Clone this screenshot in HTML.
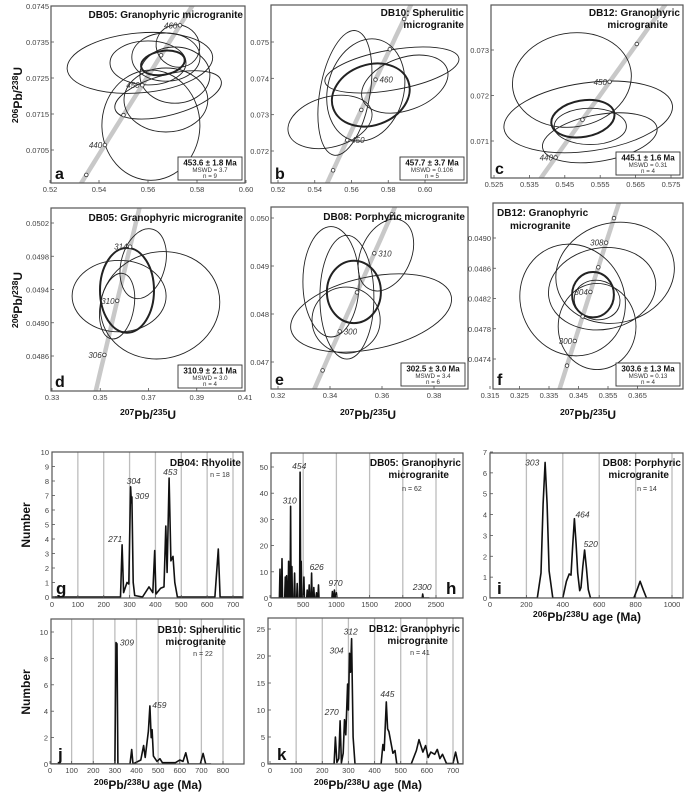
<!DOCTYPE html>
<html><head><meta charset="utf-8">
<style>
html,body{margin:0;padding:0;background:#fff;width:685px;height:796px;overflow:hidden;}
svg{display:block;font-family:"Liberation Sans",sans-serif;}
</style></head>
<body>
<svg id="fig" width="685" height="796" viewBox="0 0 685 796" xmlns="http://www.w3.org/2000/svg"></svg>
<script>
// ---------- concordia panel data ----------
const aXTicks=[0.52,0.54,0.56,0.58,0.60];
const aXLabels=["0.52","0.54","0.56","0.58","0.60"];
const aYTicks=[0.0705,0.0715,0.0725,0.0735,0.0745];
const aYLabels=["0.0705","0.0715","0.0725","0.0735","0.0745"];
const aEllipses=[[0.5567,0.07292,0.0298,0.00083,-5,0],[0.5612,0.07119,0.0200,0.00153,0,0],[0.5673,0.07189,0.0171,0.00089,0,0],[0.5682,0.07203,0.0224,0.00056,-15,0],[0.5673,0.07308,0.0139,0.00067,0,0],[0.5722,0.07339,0.009,0.00058,30,0],[0.5600,0.07292,0.0155,0.00061,0,0],[0.5710,0.07258,0.0143,0.00078,0,0],[0.5661,0.07292,0.009,0.00033,-10,1]];
const aAges=[435,440,445,450,455,460];
const aAgeLabels=[440,450,460];

const bXTicks=[0.52,0.54,0.56,0.58,0.60];
const bXLabels=["0.52","0.54","0.56","0.58","0.60"];
const bYTicks=[0.072,0.073,0.074,0.075];
const bYLabels=["0.072","0.073","0.074","0.075"];
const bEllipses=[[0.5564,0.07360,0.0136,0.00174,10,0],[0.5820,0.07423,0.037,0.00055,-10,0],[0.5890,0.07384,0.0245,0.00072,-20,0],[0.5483,0.07280,0.0234,0.00069,-15,0],[0.5678,0.07368,0.0207,0.00143,15,0],[0.5705,0.07354,0.0217,0.00083,-20,1]];
const bAges=[445,450,455,460,465,470];
const bAgeLabels=[450,460];

const cXTicks=[0.525,0.535,0.545,0.555,0.565,0.575];
const cXLabels=["0.525","0.535","0.545","0.555","0.565","0.575"];
const cYTicks=[0.071,0.072,0.073];
const cYLabels=["0.071","0.072","0.073"];
const cEllipses=[[0.5470,0.07234,0.0169,0.00103,-10,0],[0.5516,0.07153,0.0240,0.00075,-8,0],[0.5522,0.07132,0.0102,0.0004,0,0],[0.5549,0.07107,0.0164,0.00051,-10,0],[0.5501,0.07149,0.0090,0.0004,-10,1]];
const cAges=[440,445,450,455];
const cAgeLabels=[440,450];

const dXTicks=[0.33,0.35,0.37,0.39,0.41];
const dXLabels=["0.33","0.35","0.37","0.39","0.41"];
const dYTicks=[0.0486,0.0490,0.0494,0.0498,0.0502];
const dYLabels=["0.0486","0.0490","0.0494","0.0498","0.0502"];
const dEllipses=[[0.3748,0.04921,0.0249,0.00064,-15,0],[0.3678,0.04971,0.0091,0.00043,15,0],[0.3570,0.04920,0.0070,0.0004,10,0],[0.3578,0.04932,0.0195,0.00043,0,0],[0.3611,0.04939,0.0112,0.00051,0,1]];
const dAges=[302,306,310,314,318];
const dAgeLabels=[306,310,314];

const eXTicks=[0.32,0.34,0.36,0.38];
const eXLabels=["0.32","0.34","0.36","0.38"];
const eYTicks=[0.047,0.048,0.049,0.050];
const eYLabels=["0.047","0.048","0.049","0.050"];
const eEllipses=[[0.3615,0.04923,0.0096,0.00079,25,0],[0.3404,0.04867,0.0108,0.00115,0,0],[0.3465,0.04835,0.0104,0.00129,0,0],[0.3558,0.04802,0.0315,0.00075,-12,0],[0.3462,0.04787,0.0131,0.00069,0,0],[0.3492,0.04846,0.0104,0.00065,0,1]];
const eAges=[290,295,300,305,310,315];
const eAgeLabels=[290,300,310];

const fXTicks=[0.315,0.325,0.335,0.345,0.355,0.365];
const fXLabels=["0.315","0.325","0.335","0.345","0.355","0.365"];
const fYTicks=[0.0474,0.0478,0.0482,0.0486,0.0490];
const fYLabels=["0.0474","0.0478","0.0482","0.0486","0.0490"];
const fEllipses=[[0.3513,0.04818,0.0078,0.00026,10,0],[0.3430,0.04818,0.0176,0.00075,-25,0],[0.3574,0.04854,0.0203,0.00066,-15,0],[0.3530,0.04833,0.0183,0.00054,-10,0],[0.3513,0.04783,0.0132,0.00057,0,0],[0.3499,0.04825,0.0071,0.00030,0,1]];
const fAges=[298,300,302,304,306,308,310];
const fAgeLabels=[300,304,308];

// ---------- histogram data ----------
const gAges=[0,265,271,277,290,297,304,307,309,314,320,350,375,390,397,402,420,433,440,445,453,460,468,475,485,630,643,650,740];
const gValues=[0,0,3.6,0.3,1,0.9,7.6,6.5,6.9,1,0.1,0,0.7,0.3,3.2,0.2,0.6,0.7,4.9,1.7,8.2,2.5,2.8,1,0,0,3.3,0,0];
const hPeakAges=[150,180,230,250,280,295,310,330,370,410,454,470,510,560,590,626,660,700,730,940,970,1000,2300];
const hPeakValues=[11,15,8,8.5,14,9,35,12,9.5,5.5,48,14,8,3,5,9.5,4,2,5,2.5,3,2,1.5];
const iAges=[0,260,280,292,303,314,325,345,400,420,435,445,455,464,473,482,493,500,510,520,530,540,552,790,808,825,842,860,1050];
const iValues=[0,0,1.2,4.5,6.5,4.5,1.3,0,0,0.8,1.15,1.1,2.6,3.8,2.6,1.2,0.35,0.5,1.5,2.3,1.4,0.4,0,0,0.4,0.8,0.4,0,0];
const jAges=[0,300,305,310,314,370,378,384,420,433,440,455,462,468,472,478,495,508,520,580,600,615,628,640,695,708,720,745];
const jValues=[0,0,9.2,9.1,0,0,1.1,0,0.3,1.4,0.5,2.5,4.4,2,2.6,0.6,0.2,0.4,0.1,0.1,0.3,0.2,0.85,0,0,0.8,0,0];
const kAges=[0,245,250,256,263,268,273,280,285,290,297,300,304,308,312,318,325,425,432,437,445,450,455,470,478,485,540,560,570,585,595,605,615,630,640,650,660,675,700,710,720,740];
const kValues=[0,0,5,0.3,1,8,0.2,2,8.2,5.4,14.8,10,20.5,17,23.2,5,0,0,3.6,2.5,11.5,6.5,6,2,2.5,0,0,2.5,4.5,2.2,3.4,1.2,2.2,1.8,2.7,1,1.8,0.1,0.1,2.2,0,0];

// ---------- helpers ----------
const NS='http://www.w3.org/2000/svg';
const svg=document.getElementById('fig');
function mk(tag,attrs,parent){const e=document.createElementNS(NS,tag);for(const k in attrs)e.setAttribute(k,attrs[k]);(parent||svg).appendChild(e);return e;}
function lin(d0,d1,p0,p1){return v=>p0+(v-d0)*(p1-p0)/(d1-d0);}
function txt(x,y,s,attrs,parent){const t=mk('text',Object.assign({x:x,y:y},attrs),parent);t.textContent=s;return t;}
const L238=1.55125e-10,L235=9.8485e-10;
function conc(t){return [Math.exp(L235*t*1e6)-1,Math.exp(L238*t*1e6)-1];}
let clipN=0;

function concPanel(o){
  const g=mk('g',{});
  
  
  const [L,T,R,B]=o.box;
  const X=lin(o.x0,o.x1,o.px0,o.px1), Y=lin(o.y0,o.y1,o.py0,o.py1);
  const cid='clip'+(clipN++);
  const cp=mk('clipPath',{id:cid},g);mk('rect',{x:L,y:T,width:R-L,height:B-T},cp);
  const inner=mk('g',{'clip-path':'url(#'+cid+')'},g);
  let pts=[];for(let t=150;t<=650;t+=1){const c=conc(t);pts.push(X(c[0]).toFixed(1)+','+Y(c[1]).toFixed(1));}
  const cl=mk('polyline',{points:pts.join(' '),fill:'none',stroke:'#c8c8c8','stroke-width':4.5},inner);
  
  
  const sx=Math.abs(o.px1-o.px0)/Math.abs(o.x1-o.x0), sy=Math.abs(o.py1-o.py0)/Math.abs(o.y1-o.y0);
  o.ell.forEach(e=>{
    const cx=X(e[0]),cy=Y(e[1]);
    const el=mk('ellipse',{cx:cx.toFixed(1),cy:cy.toFixed(1),rx:(e[2]*sx).toFixed(1),ry:(e[3]*sy).toFixed(1),transform:'rotate('+e[4]+' '+cx.toFixed(1)+' '+cy.toFixed(1)+')',fill:'none',stroke:'#222','stroke-width':e[5]?2:0.9},inner);
    
    
  });
  o.ages.forEach(t=>{
    const c=conc(t);
    const m=mk('circle',{cx:X(c[0]).toFixed(1),cy:Y(c[1]).toFixed(1),r:1.8,fill:'#fff',stroke:'#333','stroke-width':0.8},inner);
    
    
    if(o.ageLab.indexOf(t)>=0){
      const lt=txt(X(c[0])+(o.labDx||-16),Y(c[1])+3,String(t),{'font-size':8,'font-style':'italic',fill:'#333'},inner);
      
      
    }
  });
  const bx=mk('rect',{x:L,y:T,width:R-L,height:B-T,fill:'none',stroke:'#555','stroke-width':1.2},g);
  
  
  o.xt.forEach((v,i)=>{const x=X(v);mk('line',{x1:x,y1:B,x2:x,y2:B-3,stroke:'#555','stroke-width':0.8},g);
    const t=txt(x,B+9,o.xl[i],{'font-size':7.5,fill:'#444','text-anchor':'middle'},g);
    
    });
  o.yt.forEach((v,i)=>{const y=Y(v);mk('line',{x1:L,y1:y,x2:L+3,y2:y,stroke:'#555','stroke-width':0.8},g);
    const t=txt(L-2,y+3,o.yl[i],{'font-size':7.5,fill:'#444','text-anchor':'end'},g);
    
    });
  o.title.forEach(l=>{const t=txt(l[0],l[1],l[2],{'font-size':10,'font-weight':'bold',fill:'#111','text-anchor':l[3]||'end'},g);
    
    });
  const rw=64,rh=23,rx=R-rw-3,ry=B-rh-3;
  const rb=mk('rect',{x:rx,y:ry,width:rw,height:rh,fill:'#fff',stroke:'#333','stroke-width':0.9},g);
  
  
  const r1=txt(rx+rw/2,ry+8.5,o.res[0],{'font-size':8,'font-weight':'bold','text-anchor':'middle',fill:'#111'},g);
  
  
  const r2=txt(rx+rw/2,ry+15,o.res[1],{'font-size':6.2,'text-anchor':'middle',fill:'#333'},g);
  
  
  const r3=txt(rx+rw/2,ry+21,o.res[2],{'font-size':6.2,'text-anchor':'middle',fill:'#333'},g);
  
  
  const pl=txt(L+4,B-4,o.id,{'font-size':16,'font-weight':'bold',fill:'#111'},g);
  
  
}

function histPanel(o){
  const g=mk('g',{});
  
  
  const [L,T,R,B]=o.box;
  const X=lin(0,o.xref,o.px0,o.px1), Y=lin(0,o.yref,o.py0,o.py1);
  o.grid.forEach(v=>{const gl=mk('line',{x1:X(v),y1:T,x2:X(v),y2:B,stroke:'#bdbdbd','stroke-width':1.3},g);
    
    });
  const cid='clip'+(clipN++);
  const cp=mk('clipPath',{id:cid},g);mk('rect',{x:L,y:T,width:R-L,height:B-T},cp);
  let pts;
  if(o.spikes){pts=[[X(0),Y(0)]];o.ages.forEach((a,i)=>{pts.push([X(a-8),Y(0)],[X(a),Y(o.vals[i])],[X(a+8),Y(0)]);});pts.push([X(o.xmaxLine),Y(0)]);}
  else pts=o.ages.map((a,i)=>[X(a),Y(o.vals[i])]);
  const pl=mk('polyline',{points:pts.map(p=>p[0].toFixed(1)+','+p[1].toFixed(1)).join(' '),fill:'none',stroke:'#111','stroke-width':1.6,'stroke-linejoin':'round','clip-path':'url(#'+cid+')'},g);
  
  
  const bx=mk('rect',{x:L,y:T,width:R-L,height:B-T,fill:'none',stroke:'#555','stroke-width':1.2},g);
  
  
  o.xt.forEach(v=>{const x=X(v);mk('line',{x1:x,y1:B,x2:x,y2:B-3,stroke:'#555','stroke-width':0.8},g);
    const t=txt(x,B+9,String(v),{'font-size':7.5,fill:'#444','text-anchor':'middle'},g);
    
    });
  o.yt.forEach(v=>{const y=Y(v);mk('line',{x1:L,y1:y,x2:L+3,y2:y,stroke:'#555','stroke-width':0.8},g);
    const t=txt(L-3,y+3,String(v),{'font-size':7.5,fill:'#444','text-anchor':'end'},g);
    
    });
  o.title.forEach(l=>{const t=txt(l[0],l[1],l[2],{'font-size':10,'font-weight':'bold',fill:'#111','text-anchor':'end'},g);
    
    });
  const nt=txt(o.n[0],o.n[1],o.n[2],{'font-size':7,fill:'#333','text-anchor':'middle'},g);
  
  
  o.peaks.forEach(p=>{const t=txt(X(p[0])+p[2],Y(p[1])+p[3],String(p[0]),{'font-size':8.5,'font-style':'italic',fill:'#333'},g);
    
    });
  const lt=txt(o.letter[0],o.letter[1],o.id,{'font-size':17,'font-weight':'bold',fill:'#111'},g);
  
  
}

concPanel({id:'a',box:[51,6,245,183],x0:0.52,x1:0.60,px0:50,px1:246,y0:0.0745,y1:0.0705,py0:6,py1:150,ell:aEllipses,ages:aAges,ageLab:aAgeLabels,xt:aXTicks,xl:aXLabels,yt:aYTicks,yl:aYLabels,title:[[243,18,'DB05: Granophyric microgranite']],res:['453.6 ± 1.8 Ma','MSWD = 3.7','n = 9']});
concPanel({id:'b',box:[271,5,467,183],x0:0.52,x1:0.60,px0:278,px1:425,y0:0.075,y1:0.072,py0:42,py1:151,ell:bEllipses,ages:bAges,ageLab:bAgeLabels,labDx:4,xt:bXTicks,xl:bXLabels,yt:bYTicks,yl:bYLabels,title:[[464,16,'DB10: Spherulitic'],[464,28,'microgranite']],res:['457.7 ± 3.7 Ma','MSWD = 0.106','n = 5']});
concPanel({id:'c',box:[491,5,683,178],x0:0.525,x1:0.575,px0:494,px1:671,y0:0.073,y1:0.071,py0:50,py1:141,ell:cEllipses,ages:cAges,ageLab:cAgeLabels,xt:cXTicks,xl:cXLabels,yt:cYTicks,yl:cYLabels,title:[[680,16,'DB12: Granophyric'],[668,28,'microgranite']],res:['445.1 ± 1.6 Ma','MSWD = 0.31','n = 4']});
concPanel({id:'d',box:[51,208,245,391],x0:0.33,x1:0.41,px0:52,px1:245,y0:0.0502,y1:0.0486,py0:223,py1:356,ell:dEllipses,ages:dAges,ageLab:dAgeLabels,xt:dXTicks,xl:dXLabels,yt:dYTicks,yl:dYLabels,title:[[243,221,'DB05: Granophyric microgranite']],res:['310.9 ± 2.1 Ma','MSWD = 3.0','n = 4']});
concPanel({id:'e',box:[271,207,468,389],x0:0.32,x1:0.38,px0:278,px1:434,y0:0.050,y1:0.047,py0:218,py1:362,ell:eEllipses,ages:eAges,ageLab:eAgeLabels,labDx:4,xt:eXTicks,xl:eXLabels,yt:eYTicks,yl:eYLabels,title:[[465,220,'DB08: Porphyric microgranite']],res:['302.5 ± 3.0 Ma','MSWD = 3.4','n = 6']});
concPanel({id:'f',box:[493,203,683,389],x0:0.315,x1:0.365,px0:490,px1:637.5,y0:0.049,y1:0.0474,py0:238,py1:359,ell:fEllipses,ages:fAges,ageLab:fAgeLabels,xt:fXTicks,xl:fXLabels,yt:fYTicks,yl:fYLabels,title:[[497,216,'DB12: Granophyric','start'],[510,229,'microgranite','start']],res:['303.6 ± 1.3 Ma','MSWD = 0.13','n = 4']});

histPanel({id:'g',box:[52,452,243,598],xref:700,px0:52,px1:233,yref:10,py0:597,py1:452,grid:[100,200,300,400,500,600,700],ages:gAges,vals:gValues,xt:[0,100,200,300,400,500,600,700],yt:[0,1,2,3,4,5,6,7,8,9,10],title:[[241,466,'DB04: Rhyolite']],n:[220,477,'n = 18'],peaks:[[271,3.6,-14,-3],[304,7.6,-4,-3],[309,6.9,3,2],[453,8.2,-6,-3]],letter:[56,594]});
histPanel({id:'h',box:[271,453,463,598],xref:2500,px0:270,px1:436,yref:50,py0:598,py1:467,spikes:true,xmaxLine:2400,grid:[500,1000,1500,2000,2500],ages:hPeakAges,vals:hPeakValues,xt:[0,500,1000,1500,2000,2500],yt:[0,10,20,30,40,50],title:[[461,466,'DB05: Granophyric'],[449,478,'microgranite']],n:[412,491,'n = 62'],peaks:[[454,48,-8,-3],[310,35,-8,-3],[626,9.5,-2,-3],[970,3,-6,-4],[2300,1.5,-10,-4]],letter:[446,594]});
histPanel({id:'i',box:[490,453,683,598],xref:1000,px0:490,px1:672,yref:7,py0:598,py1:452,grid:[200,400,600,800,1000],ages:iAges,vals:iValues,xt:[0,200,400,600,800,1000],yt:[0,1,2,3,4,5,6,7],title:[[681,466,'DB08: Porphyric'],[669,478,'microgranite']],n:[647,491,'n = 14'],peaks:[[303,6.5,-20,3],[464,3.8,1,-1],[520,2.3,-1,-3]],letter:[497,594]});
histPanel({id:'j',box:[51,619,244,764],xref:800,px0:50,px1:223,yref:10,py0:764,py1:632,grid:[100,200,300,400,500,600,700,800],ages:jAges,vals:jValues,xt:[0,100,200,300,400,500,600,700,800],yt:[0,2,4,6,8,10],title:[[241,633,'DB10: Spherulitic'],[226,645,'microgranite']],n:[203,656,'n = 22'],peaks:[[309,9.2,3,3],[459,4.4,3,2]],letter:[58,760]});
histPanel({id:'k',box:[268,618,463,764],xref:700,px0:270,px1:453,yref:25,py0:764,py1:629,grid:[100,200,300,400,500,600,700],ages:kAges,vals:kValues,xt:[0,100,200,300,400,500,600,700],yt:[0,5,10,15,20,25],title:[[460,632,'DB12: Granophyric'],[448,644,'microgranite']],n:[420,655,'n = 41'],peaks:[[312,23.2,-8,-4],[304,20.5,-20,0],[270,8,-16,-6],[445,11.5,-6,-5]],letter:[277,760]});

// ---------- axis titles ----------
function isoTitle(x,y,a,b,c,d,e,rot,name,size){
  const t=mk('text',{x:x,y:y,'font-size':size,'font-weight':'bold',fill:'#111','text-anchor':'middle'});
  if(rot)t.setAttribute('transform','rotate(-90 '+x+' '+y+')');
  
  
  const s1=mk('tspan',{'font-size':size*0.72,dy:-4},t);s1.textContent=a;
  const s2=mk('tspan',{dy:4},t);s2.textContent=b;
  const s3=mk('tspan',{'font-size':size*0.72,dy:-4},t);s3.textContent=c;
  const s4=mk('tspan',{dy:4},t);s4.textContent=d+(e||'');
}
isoTitle(22,95,'206','Pb/','238','U','',true,'y-axis-title-row1',12);
isoTitle(22,300,'206','Pb/','238','U','',true,'y-axis-title-row2',12);
isoTitle(148,419,'207','Pb/','235','U','',false,'x-axis-title-d',12);
isoTitle(368,419,'207','Pb/','235','U','',false,'x-axis-title-e',12);
isoTitle(588,419,'207','Pb/','235','U','',false,'x-axis-title-f',12);
isoTitle(148,789,'206','Pb/','238','U',' age (Ma)',false,'x-axis-title-j',12);
isoTitle(368,789,'206','Pb/','238','U',' age (Ma)',false,'x-axis-title-k',12);
isoTitle(587,621,'206','Pb/','238','U',' age (Ma)',false,'x-axis-title-i',12);
const n1=txt(30,525,'Number',{'font-size':12,'font-weight':'bold',fill:'#111','text-anchor':'middle',transform:'rotate(-90 30 525)'});


const n2=txt(30,692,'Number',{'font-size':12,'font-weight':'bold',fill:'#111','text-anchor':'middle',transform:'rotate(-90 30 692)'});


</script>
</body></html>
